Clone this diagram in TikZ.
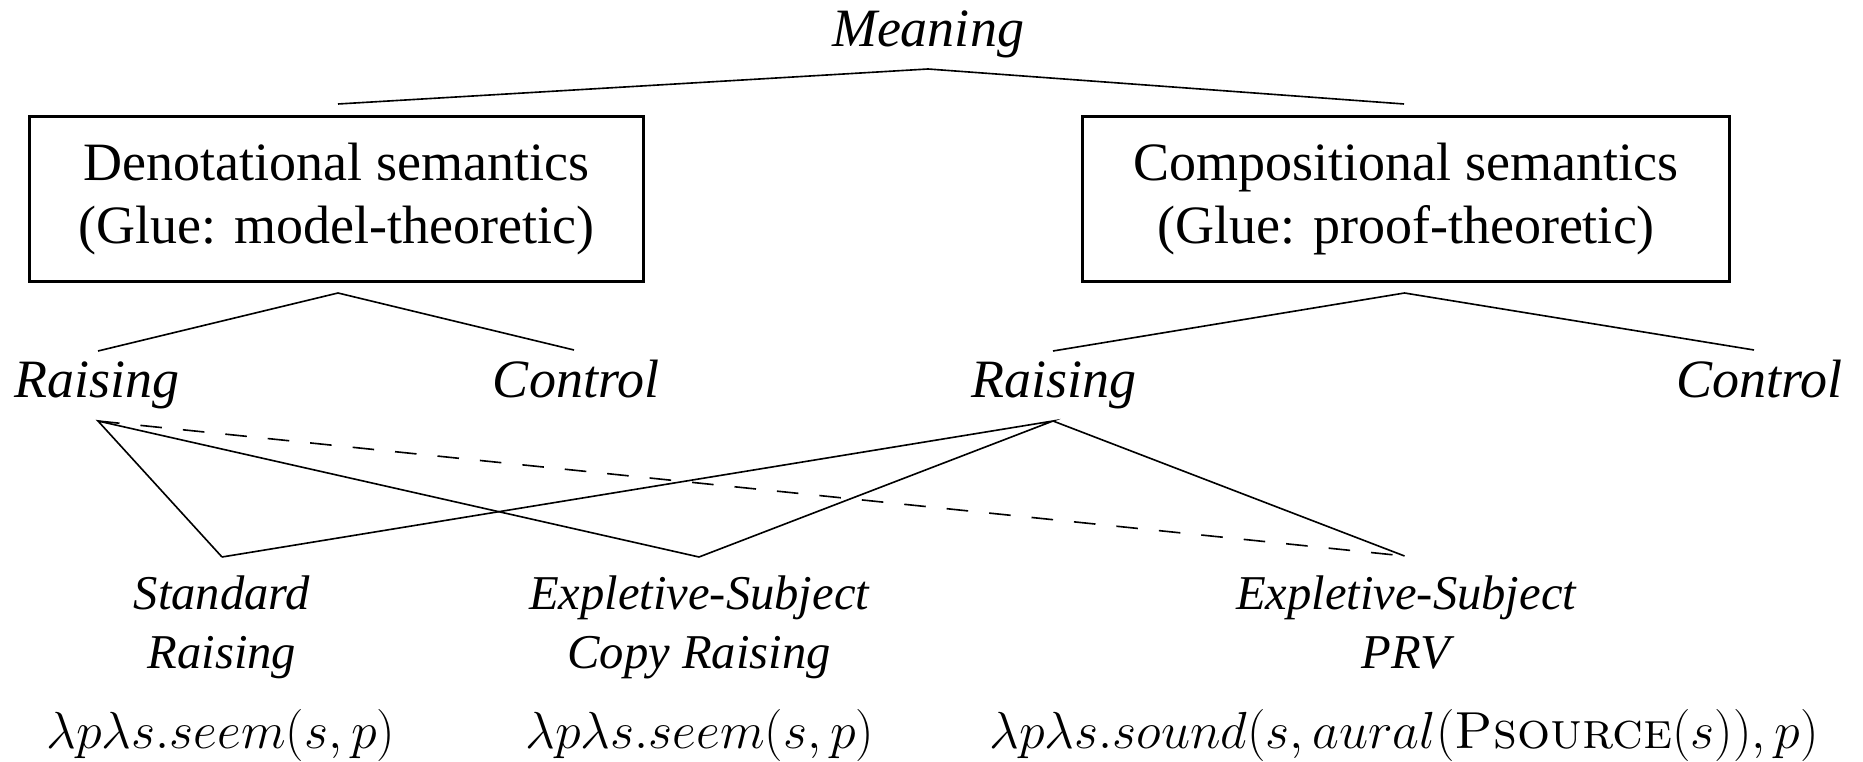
\RequirePackage{fix-cm}
\documentclass[tikz,border=0pt]{standalone}
\usepackage{fontspec}
\newfontfamily\tms{Liberation Serif}
\begin{document}
\begin{tikzpicture}[x=0.37037pt,y=-0.37037pt,
  txt/.style={font=\tms\fontsize{20}{23}\selectfont, inner sep=0pt},
  itx/.style={txt, font=\tms\itshape\fontsize{20}{21.5}\selectfont, align=center},
  leaf/.style={txt, font=\tms\itshape\fontsize{18}{21.5}\selectfont, align=center},
  box/.style={txt, draw, line width=1.1pt, align=center, minimum height=61.1pt},
  mth/.style={font=\fontsize{19.3}{23}\selectfont, inner sep=0pt, anchor=base},
  edge/.style={line width=0.6pt},
  dedge/.style={line width=0.6pt, dash pattern=on 8pt off 7.8pt}]
\useasboundingbox (0,0) rectangle (1863,762);
% top
\node[itx, anchor=base] (mean) at (928,47) {Meaning};
\coordinate (meanb) at (928,69);
\node[box, minimum width=227.4pt] (den) at (336.5,199) {Denotational semantics\\(Glue: model-theoretic)};
\node[box, minimum width=239.3pt] (com) at (1406,199) {Compositional semantics\\(Glue: proof-theoretic)};
\coordinate (dent) at (338,104);
\coordinate (comt) at (1404,104);
\draw[edge] (dent) -- (meanb) -- (comt);
% second level
\coordinate (denb) at (338,293);
\coordinate (comb) at (1404.5,293);
\node[itx, anchor=base] (r1) at (97,398) {Raising};
\node[itx, anchor=base] (c1) at (576,398) {Control};
\node[itx, anchor=base] (r2) at (1054,398) {Raising};
\node[itx, anchor=base] (c2) at (1759,398) {Control};
\coordinate (r1t) at (98,351);
\coordinate (c1t) at (574,350);
\coordinate (r2t) at (1053,351);
\coordinate (c2t) at (1754,350);
\draw[edge] (r1t) -- (denb) -- (c1t);
\draw[edge] (r2t) -- (comb) -- (c2t);
% third level
\coordinate (r1b) at (98,421);
\coordinate (r2b) at (1053,421);
\coordinate (stdt) at (222,557);
\coordinate (copt) at (699,557);
\coordinate (prvt) at (1404.5,556);
\node[leaf, anchor=base] (std) at (222,668) {Standard\\Raising};
\node[leaf, anchor=base] (cop) at (699,668) {Expletive-Subject\\Copy Raising};
\node[leaf, anchor=base] (prv) at (1406,668) {Expletive-Subject\\PRV};
\draw[edge] (stdt) -- (r1b) -- (copt);
\draw[dedge] (r1b) -- (prvt);
\draw[edge] (stdt) -- (r2b) -- (copt);
\draw[edge] (r2b) -- (prvt);
% formulas
\node[mth] (f1) at (221,748) {$\lambda p\lambda s.seem(s, p)$};
\node[mth] (f2) at (700,748) {$\lambda p\lambda s.seem(s, p)$};
\node[mth] (f3) at (1404,748) {$\lambda p\lambda s.sound(s, aural(\textsc{Psource}(s)), p)$};
\end{tikzpicture}
\end{document}
